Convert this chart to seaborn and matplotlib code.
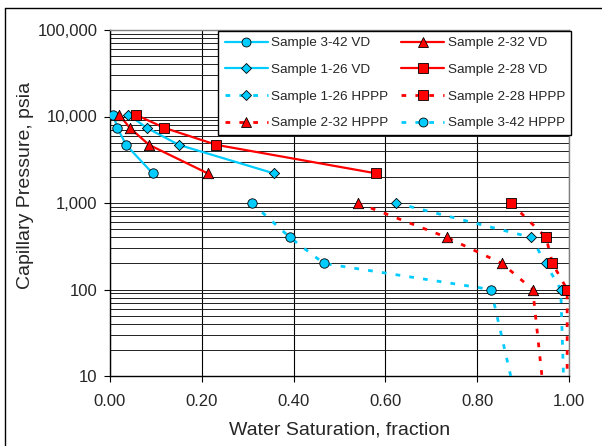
import numpy as np
import pandas as pd
import matplotlib
matplotlib.use("Agg")
import matplotlib.pyplot as plt
import matplotlib.ticker as mticker
from matplotlib.lines import Line2D
import seaborn as sns

# ---------------- data ----------------
vd_pc = [10500, 7400, 4700, 2200]
vd_3_42 = [0.007, 0.016, 0.035, 0.093]
vd_2_32 = [0.020, 0.043, 0.085, 0.213]
vd_1_26 = [0.040, 0.080, 0.150, 0.357]
vd_2_28 = [0.056, 0.118, 0.232, 0.580]

hppp_pc = [1000, 400, 200, 100, 10]
hppp_3_42 = [0.309, 0.392, 0.466, 0.830, 0.873]
hppp_2_32 = [0.540, 0.734, 0.854, 0.921, 0.941]
hppp_1_26 = [0.623, 0.918, 0.949, 0.982, 0.988]
hppp_2_28 = [0.873, 0.950, 0.964, 0.996, 0.996]
hppp_marked = 4  # number of HPPP points that carry a marker

x_ticks = [0.0, 0.2, 0.4, 0.6, 0.8, 1.0]
y_ticks = [10, 100, 1000, 10000, 100000]

CYAN = "#00CCFF"
RED = "#FF0000"

sns.set_style("white")
plt.rcParams["font.family"] = ["Liberation Sans", "DejaVu Sans"]

W, H = 602, 446
fig = plt.figure(figsize=(W / 100, H / 100), dpi=100)
ax = fig.add_axes([110 / W, 1 - 376 / H, (569 - 110) / W, (376 - 30) / H])

dot = (0, (1.7, 3.3))

series = [
    # label, x, y, color, marker, size, linestyle, n_marked
    ("Sample 3-42 VD", vd_3_42, vd_pc, CYAN, "o", 46, "-", 4),
    ("Sample 2-32 VD", vd_2_32, vd_pc, RED, "^", 56, "-", 4),
    ("Sample 1-26 VD", vd_1_26, vd_pc, CYAN, "D", 27, "-", 4),
    ("Sample 2-28 VD", vd_2_28, vd_pc, RED, "s", 52, "-", 4),
    ("Sample 1-26 HPPP", hppp_1_26, hppp_pc, CYAN, "D", 27, dot, hppp_marked),
    ("Sample 2-28 HPPP", hppp_2_28, hppp_pc, RED, "s", 52, dot, hppp_marked),
    ("Sample 2-32 HPPP", hppp_2_32, hppp_pc, RED, "^", 56, dot, hppp_marked),
    ("Sample 3-42 HPPP", hppp_3_42, hppp_pc, CYAN, "o", 46, dot, hppp_marked),
]

handles = {}
for label, xs, ys, col, mk, s, ls, nm in series:
    df = pd.DataFrame({"sw": xs, "pc": ys})
    lw = 1.6 if ls == "-" else 2.0
    sns.lineplot(data=df, x="sw", y="pc", sort=False, estimator=None,
                 color=col, linewidth=lw, linestyle=ls, ax=ax, zorder=3)
    sns.scatterplot(data=df.iloc[:nm], x="sw", y="pc", color=col, marker=mk,
                    s=s, edgecolor="black", linewidth=0.6, ax=ax, zorder=4)
    handles[label] = Line2D([], [], color=col, linewidth=lw, linestyle=ls,
                            marker=mk, markersize=np.sqrt(s) * 0.95,
                            markerfacecolor=col, markeredgecolor="black",
                            markeredgewidth=0.6)

ax.set_yscale("log")
ax.set_xlim(0, 1)
ax.set_ylim(10, 100000)
ax.set_xticks(x_ticks)
ax.set_xticklabels([f"{v:.2f}" for v in x_ticks])
ax.set_yticks(y_ticks)
ax.set_yticklabels([f"{v:,}" for v in y_ticks])
ax.yaxis.set_minor_locator(mticker.LogLocator(base=10, subs=np.arange(2, 10)))
ax.yaxis.set_minor_formatter(mticker.NullFormatter())
ax.set_xlabel("")
ax.set_ylabel("")

ax.grid(True, axis="x", which="major", color="black", linewidth=0.8)
ax.grid(True, axis="y", which="both", color="#202020", linewidth=0.7)
ax.set_axisbelow(True)

ax.tick_params(axis="both", which="major", direction="out", length=4,
               width=0.8, color="black", labelsize=12, pad=5, left=True,
               bottom=True)
ax.tick_params(axis="x", which="major", pad=9)
ax.tick_params(axis="y", which="minor", length=0)
for side in ("left", "bottom"):
    ax.spines[side].set_color("black")
    ax.spines[side].set_linewidth(1.0)
for side in ("top", "right"):
    ax.spines[side].set_color("#808080")
    ax.spines[side].set_linewidth(1.0)

fig.text(339.5 / W, 1 - 430 / H, "Water Saturation, fraction",
         ha="center", va="center", fontsize=14)
fig.text(26 / W, 1 - 185 / H, "Capillary Pressure, psia",
         ha="center", va="center", rotation=90, fontsize=14)

order = ["Sample 3-42 VD", "Sample 1-26 VD", "Sample 1-26 HPPP",
         "Sample 2-32 HPPP", "Sample 2-32 VD", "Sample 2-28 VD",
         "Sample 2-28 HPPP", "Sample 3-42 HPPP"]
leg = ax.legend([handles[k] for k in order], order, ncol=2,
                loc="upper right", bbox_to_anchor=(571 / W, 1 - 31 / H),
                bbox_transform=fig.transFigure, frameon=True, fancybox=False,
                edgecolor="black", framealpha=1, fontsize=9.7,
                handlelength=3.19, handletextpad=0.25, columnspacing=0.97,
                labelspacing=1.05, borderpad=0.45, borderaxespad=0)
leg.get_frame().set_linewidth(1.0)
leg.set_zorder(10)

# figure outline (left and top edges visible)
fig.add_artist(Line2D([5 / W, 5 / W], [0, 1 - 8 / H], transform=fig.transFigure,
                      color="black", linewidth=1.0))
fig.add_artist(Line2D([5 / W, 1], [1 - 8 / H, 1 - 8 / H],
                      transform=fig.transFigure, color="black", linewidth=1.0))

fig.savefig("out.png", dpi=100)
